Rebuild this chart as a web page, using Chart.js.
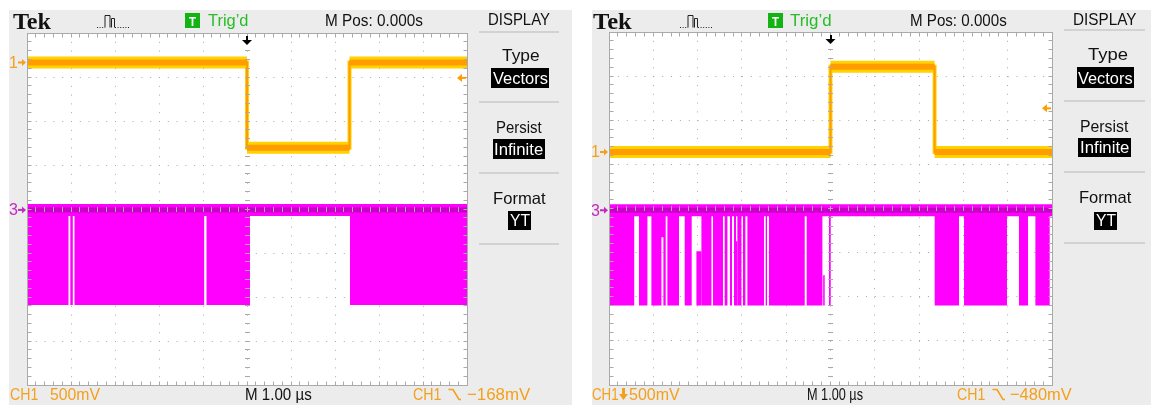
<!DOCTYPE html>
<html>
<head>
<meta charset="utf-8">
<title>Tek DISPLAY – CH1 / CH3 captures</title>
<script src="https://cdn.jsdelivr.net/npm/chart.js@4.4.1/dist/chart.umd.min.js"></script>
<style>
  html, body { margin: 0; padding: 0; background: #fff; }
  body { position: relative; width: 1151px; height: 408px; overflow: hidden; }
  .panel { position: absolute; background: #ececec; }
  .panel canvas { position: absolute; left: 0; top: 0; }
  .txt { position: absolute; white-space: nowrap; line-height: 1; transform-origin: 0 0; }
  .box { position: absolute; background: #000; }
  .sep { position: absolute; height: 2px; background: #d2d2d2; }
  svg.icon { position: absolute; overflow: visible; }
</style>
</head>
<body>
<div class="panel" style="left:9px;top:10px;width:563px;height:395px"><canvas id="scopeL" width="563" height="395"></canvas></div>
<div class="panel" style="left:592px;top:10px;width:559px;height:395px"><canvas id="scopeR" width="559" height="395"></canvas></div>

<script>
// Horizontal: 1.00 µs/div over 10 divisions, trigger at centre. Vertical: 8 divisions.
const timeRange = [-5, 5];   // µs
const divRange  = [-4, 4];   // screen divisions

// ---- left capture ----
const ch1LeftLevels    = [3.33, 1.39, 3.33];  // div, level between edges
const ch1LeftEdges     = [0, 2.33];           // µs
const ch1LeftTrigLevel = 2.98;                // div (−168 mV)
const ch3LeftGround    = -0.02;
const ch3LeftLow       = -2.18;
const ch3LeftBursts    = [[-5.0, -4.057], [-4.016, -3.959], [-3.920, -0.973], [-0.920, 0.068], [2.341, 5.0]];

// ---- right capture ----
const ch1RightLevels    = [1.28, 3.21, 1.28];
const ch1RightEdges     = [0, 2.35];
const ch1RightTrigLevel = 2.27;               // div (−480 mV)
const ch3RightGround    = -0.04;
const ch3RightLow       = -2.20;
const ch3RightBursts = [
  [-5.00, -4.431], [-4.323, -4.133], [-4.043, -3.817], [-3.772, -3.720], [-3.682, -3.420],
  [-3.291, -3.133], [-2.914, -2.688], [-2.652, -2.427], [-2.388, -2.327], [-2.269, -2.223],
  [-2.178, -2.133], [-2.102, -2.011], [-1.975, -1.921], [-1.876, -1.501], [-1.463, -1.433],
  [-1.388, -0.582], [-0.537, -0.183], [-0.034, 0.005], [2.352, 2.901], [3.014, 3.984],
  [4.255, 4.458], [4.625, 4.948]
];
// pulses that only reach part way down from the top level: [start, end, bottom]
const ch3RightTopPartial    = [[-3.817, -3.772, -0.65]];
// pulses that only cover the lower part of the swing: [start, end, top]
const ch3RightBottomPartial = [[-3.027, -2.914, -0.97], [-2.133, -2.102, -0.74], [-0.165, -0.131, -1.51]];

// ---- colours ----
const GRID = '#a9a9a9';
const YELLOW = '#ffd200';
const ORANGE = '#ff9c00';
const MAGENTA = '#ff00ff';
const MAGENTA_CORE = '#c800c8';
const LABEL_ORANGE = '#f5a01a';
const LABEL_MAGENTA = '#c02cc0';
const UI = '"Liberation Sans", Arial, sans-serif';

const X_MIN = timeRange[0], X_MAX = timeRange[1];

// square-wave trace with vertical edges
function stepTrace(levels, edges) {
  const pts = [{x: X_MIN, y: levels[0]}];
  edges.forEach((t, i) => pts.push({x: t, y: levels[i]}, {x: t, y: levels[i + 1]}));
  pts.push({x: X_MAX, y: levels[levels.length - 1]});
  return pts;
}
// flat parts of the trace only, broken at each edge
function plateaus(levels, edges) {
  const b = [X_MIN, ...edges, X_MAX];
  const pts = [];
  levels.forEach((v, i) => {
    if (i) pts.push({x: b[i], y: null});
    pts.push({x: b[i], y: v}, {x: b[i + 1], y: v});
  });
  return pts;
}
// outline that leaves `base` for each [start, end, level] segment
function envelope(segs, base) {
  const pts = [{x: X_MIN, y: base}];
  segs.forEach(([t0, t1, lv]) => pts.push({x: t0, y: base}, {x: t0, y: lv}, {x: t1, y: lv}, {x: t1, y: base}));
  pts.push({x: X_MAX, y: base});
  return pts;
}
function flat(v) { return [{x: X_MIN, y: v}, {x: X_MAX, y: v}]; }

const line = (data, color, width, order, extra) => Object.assign({
  data, borderColor: color, borderWidth: width, order, fill: false,
  pointRadius: 0, tension: 0, borderCapStyle: 'butt', borderJoinStyle: 'miter'
}, extra || {});

// graticule ticks, frame, channel markers and trigger arrows
const screenDecor = {
  id: 'screenDecor',
  beforeDraw(chart) {
    const {ctx, chartArea: a} = chart;
    ctx.save();
    ctx.fillStyle = '#ffffff';
    ctx.fillRect(a.left, a.top, a.right - a.left, a.bottom - a.top);
    ctx.restore();
  },
  afterDraw(chart, _args, o) {
    const {ctx, chartArea: a, scales: {x, y}} = chart;
    const al = v => Math.round(v - 0.5) + 0.5;
    const L = al(a.left), R = al(a.right), T = al(a.top), B = al(a.bottom);
    const cx = al(x.getPixelForValue(0)), cy = al(y.getPixelForValue(0));
    ctx.save();
    ctx.strokeStyle = GRID;
    ctx.lineWidth = 1;
    ctx.strokeRect(L, T, R - L, B - T);
    ctx.beginPath();
    for (let k = 1; k < 50; k++) {
      const X = al(x.getPixelForValue(X_MIN + k / 5));
      ctx.moveTo(X, T); ctx.lineTo(X, T + 4);
      ctx.moveTo(X, B - 4); ctx.lineTo(X, B);
      ctx.moveTo(X, cy - 2.5); ctx.lineTo(X, cy + 2.5);
    }
    for (let k = 1; k < 40; k++) {
      const Y = al(y.getPixelForValue(divRange[0] + k / 5));
      ctx.moveTo(L, Y); ctx.lineTo(L + 4, Y);
      ctx.moveTo(R - 4, Y); ctx.lineTo(R, Y);
      ctx.moveTo(cx - 2.5, Y); ctx.lineTo(cx + 2.5, Y);
    }
    ctx.stroke();

    // channel ground markers
    const marker = (v, label, color) => {
      const Y = y.getPixelForValue(v);
      ctx.fillStyle = color;
      ctx.font = '16px ' + UI;
      ctx.textAlign = 'right';
      ctx.textBaseline = 'middle';
      ctx.fillText(label, a.left - 9, Y + 1);
      ctx.fillRect(a.left - 9, Y - 1, 5, 2);
      ctx.beginPath();
      ctx.moveTo(a.left - 5, Y - 3.5); ctx.lineTo(a.left - 1, Y); ctx.lineTo(a.left - 5, Y + 3.5);
      ctx.closePath(); ctx.fill();
    };
    marker(o.ch1Ground, '1', LABEL_ORANGE);
    marker(o.ch3Ground, '3', LABEL_MAGENTA);

    // trigger level (right edge)
    const TY = y.getPixelForValue(o.trigLevel);
    ctx.fillStyle = ORANGE;
    ctx.beginPath();
    ctx.moveTo(a.right - 10, TY); ctx.lineTo(a.right - 5, TY - 4); ctx.lineTo(a.right - 5, TY + 4);
    ctx.closePath(); ctx.fill();
    ctx.fillRect(a.right - 6, TY - 1, 5, 2);

    // trigger position (top)
    const TX = x.getPixelForValue(0);
    ctx.fillStyle = '#000';
    ctx.fillRect(Math.round(TX) - 1, a.top + 3, 2, 5);
    ctx.beginPath();
    ctx.moveTo(TX - 5, a.top + 7); ctx.lineTo(TX + 5, a.top + 7); ctx.lineTo(TX, a.top + 12);
    ctx.closePath(); ctx.fill();
    ctx.restore();
  }
};

function scopeChart(id, cfg) {
  const canvas = document.getElementById(id);
  const p = cfg.padding;
  const w = canvas.width - p.left - p.right;
  const h = canvas.height - p.top - p.bottom;
  const mainSegs = cfg.bursts.map(([t0, t1]) => [t0, t1, cfg.low])
    .concat(cfg.topPartial).sort((s, q) => s[0] - q[0]);

  const datasets = [
    line(envelope(mainSegs, cfg.ground), 'rgba(0,0,0,0)', 0, 20,
         {fill: {value: cfg.ground}, backgroundColor: MAGENTA}),
    line(envelope(cfg.bottomPartial, cfg.low), 'rgba(0,0,0,0)', 0, 19,
         {fill: {value: cfg.low}, backgroundColor: MAGENTA}),
    line(flat(cfg.ground), MAGENTA, 12, 18),
    line(flat(cfg.ground), MAGENTA_CORE, 5, 17),
    line(plateaus(cfg.ch1Levels, cfg.ch1Edges), YELLOW, 12, 16),
    line(stepTrace(cfg.ch1Levels, cfg.ch1Edges), YELLOW, 4, 15),
    line(plateaus(cfg.ch1Levels, cfg.ch1Edges), ORANGE, 6, 14),
    line(stepTrace(cfg.ch1Levels, cfg.ch1Edges), ORANGE, 2, 13)
  ];

  return new Chart(canvas, {
    type: 'line',
    data: {datasets},
    plugins: [screenDecor],
    options: {
      responsive: false,
      animation: false,
      devicePixelRatio: 1,
      events: [],
      layout: {padding: p},
      plugins: {
        legend: {display: false},
        tooltip: {enabled: false},
        screenDecor: {ch1Ground: cfg.ch1Ground, ch3Ground: cfg.ground, trigLevel: cfg.trigLevel}
      },
      scales: {
        x: {
          type: 'linear', min: timeRange[0], max: timeRange[1], z: 1,
          ticks: {display: false, stepSize: 1},
          grid: {color: GRID, lineWidth: 1, drawTicks: false},
          border: {display: false, dash: [1, h / 40 - 1]}
        },
        y: {
          type: 'linear', min: divRange[0], max: divRange[1], z: 1,
          ticks: {display: false, stepSize: 1},
          grid: {color: GRID, lineWidth: 1, drawTicks: false},
          border: {display: false, dash: [1, w / 50 - 1]}
        }
      }
    }
  });
}

scopeChart('scopeL', {
  padding: {left: 18, top: 23, right: 105, bottom: 20},
  ch1Levels: ch1LeftLevels, ch1Edges: ch1LeftEdges, ch1Ground: ch1LeftLevels[0],
  trigLevel: ch1LeftTrigLevel,
  ground: ch3LeftGround, low: ch3LeftLow, bursts: ch3LeftBursts,
  topPartial: [], bottomPartial: []
});
scopeChart('scopeR', {
  padding: {left: 17, top: 22, right: 99, bottom: 20},
  ch1Levels: ch1RightLevels, ch1Edges: ch1RightEdges, ch1Ground: ch1RightLevels[0],
  trigLevel: ch1RightTrigLevel,
  ground: ch3RightGround, low: ch3RightLow, bursts: ch3RightBursts,
  topPartial: ch3RightTopPartial, bottomPartial: ch3RightBottomPartial
});

// ---------- screen text ----------
function addText(s) {
  const el = document.createElement('div');
  el.className = 'txt';
  el.style.font = (s.bold ? 'bold ' : '') + (s.size || 16.5) + 'px ' + (s.family || UI);
  el.style.color = s.color || '#111';
  const span = document.createElement('span');
  span.textContent = s.text;
  const mark = document.createElement('i');
  mark.style.cssText = 'display:inline-block;width:0;height:0;vertical-align:baseline';
  el.append(span, mark);
  document.body.appendChild(el);
  const wd = span.getBoundingClientRect().width;
  el.style.left = s.x0 + 'px';
  el.style.top = (s.base - mark.offsetTop) + 'px';
  el.style.transform = 'scaleX(' + ((s.x1 - s.x0) / wd).toFixed(4) + ')';
}
function addBox(x0, y0, x1, y1, color) {
  const d = document.createElement('div');
  d.className = 'box';
  d.style.cssText = `left:${x0}px;top:${y0}px;width:${x1 - x0}px;height:${y1 - y0}px;background:${color}`;
  document.body.appendChild(d);
}
function addSep(x0, x1, y0) {
  const d = document.createElement('div');
  d.className = 'sep';
  d.style.cssText = `left:${x0}px;top:${y0}px;width:${x1 - x0}px`;
  document.body.appendChild(d);
}
function addSvg(x0, y0, w, h, inner) {
  const ns = 'http://www.w3.org/2000/svg';
  const s = document.createElementNS(ns, 'svg');
  s.setAttribute('class', 'icon');
  s.setAttribute('width', w); s.setAttribute('height', h);
  s.style.left = x0 + 'px'; s.style.top = y0 + 'px';
  s.innerHTML = inner;
  document.body.appendChild(s);
}
const pulseIcon = '<path d="M0 14.5H8" stroke="#222" stroke-dasharray="1 1.6"/>' +
  '<path d="M8 14.5V2.5H13V14.5M14.5 14.5V5.5H17.5V14.5" stroke="#222" fill="none"/>' +
  '<path d="M18 14.5H33" stroke="#222" stroke-dasharray="1 1.6"/>';
const slopeIcon = '<path d="M0.5 1.5H5L11 11.5H13" stroke="' + LABEL_ORANGE + '" stroke-width="1.6" fill="none"/>';
const downArrow = '<path d="M3 0H6V6H9L4.5 12L0 6H3Z" fill="' + LABEL_ORANGE + '"/>';

function screenText(L) {
  addText({text: 'Tek', x0: L.tek[0], x1: L.tek[1], base: 28.5, size: 24, bold: true,
           family: '"Liberation Serif", "Times New Roman", serif'});
  addSvg(L.pulse, 13, 34, 16, pulseIcon);
  addBox(L.tBox[0], 13.3, L.tBox[1], 28.3, '#12b312');
  addText({text: 'T', x0: L.tBox[0] + 4, x1: L.tBox[1] - 4, base: 25.5, size: 12, bold: true, color: '#fff'});
  addText({text: 'Trig’d', x0: L.trig[0], x1: L.trig[1], base: 26, size: 17, color: '#27bd27'});
  addText({text: 'M Pos: 0.000s', x0: L.mpos[0], x1: L.mpos[1], base: 26, size: 17});
  addText({text: 'DISPLAY', x0: L.disp[0], x1: L.disp[1], base: 25, size: 16.5});
  L.seps.forEach(yy => addSep(L.sepX[0], L.sepX[1], yy));
  addText({text: 'Type', x0: L.type[0], x1: L.type[1], base: L.type[2], size: 16.5});
  addText({text: 'Persist', x0: L.persist[0], x1: L.persist[1], base: L.persist[2], size: 16.5});
  addText({text: 'Format', x0: L.format[0], x1: L.format[1], base: L.format[2], size: 16.5});
  L.boxes.forEach(([t, x0, y0, x1, y1]) => {
    addBox(x0, y0, x1, y1, '#000');
    addText({text: t, x0: x0 + 1.5, x1: x1 - 1.5, base: y1 - 4.5, size: 16.5, color: '#fff'});
  });
  // bottom status line
  addText({text: 'CH1', x0: L.ch1a[0], x1: L.ch1a[1], base: 400, size: 17, color: LABEL_ORANGE});
  if (L.down) addSvg(L.down, 388, 9, 12, downArrow);
  addText({text: '500mV', x0: L.volts[0], x1: L.volts[1], base: 400, size: 17, color: LABEL_ORANGE});
  addText({text: 'M 1.00 µs', x0: L.tb[0], x1: L.tb[1], base: 400, size: 17});
  addText({text: 'CH1', x0: L.ch1b[0], x1: L.ch1b[1], base: 400, size: 17, color: LABEL_ORANGE});
  addSvg(L.slope, 388, 14, 12, slopeIcon);
  addText({text: L.trigText, x0: L.trigV[0], x1: L.trigV[1], base: 400, size: 17, color: LABEL_ORANGE});
}

screenText({
  tek: [12.7, 50.7], pulse: 97, tBox: [185, 200], trig: [208, 248.5], mpos: [325, 423],
  disp: [488, 550], sepX: [479, 559], seps: [31, 101, 172, 243],
  type: [501.7, 539.3, 60.5], persist: [496, 541.7, 132.5], format: [493.3, 546, 203.5],
  boxes: [['Vectors', 491, 68, 549, 88.3], ['Infinite', 492.7, 138.7, 545, 159.5], ['YT', 508, 210.5, 531, 230]],
  ch1a: [10, 38.3], down: null, volts: [50, 100], tb: [245, 311.7],
  ch1b: [413.3, 441.7], slope: 448, trigText: '−168mV', trigV: [466.7, 530]
});
screenText({
  tek: [593, 631.7], pulse: 680, tBox: [768.3, 783.3], trig: [790, 831.7], mpos: [910, 1006.7],
  disp: [1073.3, 1136.7], sepX: [1064, 1145], seps: [29, 100, 171, 242],
  type: [1088.3, 1128.3, 60], persist: [1080, 1128.3, 131.5], format: [1079.3, 1131.7, 202.5],
  boxes: [['Vectors', 1076.7, 67, 1134.3, 88.3], ['Infinite', 1078.3, 138.3, 1130.7, 157.5], ['YT', 1094.3, 211.7, 1117.3, 230]],
  ch1a: [591.7, 618.3], down: 619.3, volts: [629.3, 680], tb: [806.7, 862.7],
  ch1b: [956.7, 985], slope: 992, trigText: '−480mV', trigV: [1010, 1071.7]
});
</script>
</body>
</html>
